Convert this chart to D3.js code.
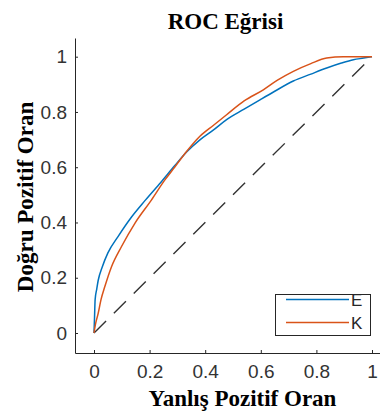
<!DOCTYPE html>
<html>
<head>
<meta charset="utf-8">
<script src="https://cdn.jsdelivr.net/npm/d3@7"></script>
<style>
  body { margin: 0; background: #fff; }
  svg { display: block; }
  .tick text { font-family: "Liberation Sans", Arial, sans-serif; font-size: 19px; fill: #333; }
  .lbl { font-family: "Liberation Serif", "Times New Roman", serif; font-weight: bold; font-size: 23px; fill: #000; }
</style>
</head>
<body>
<script>
// ROC points
var fprE = [0, 0.002, 0.004, 0.01, 0.015, 0.03, 0.05, 0.087, 0.135, 0.184, 0.24, 0.29, 0.333, 0.381, 0.43, 0.477, 0.54, 0.597, 0.65, 0.717, 0.78, 0.837, 0.89, 0.933, 0.97, 1];
var tprE = [0, 0.06, 0.12, 0.16, 0.19, 0.24, 0.29, 0.35, 0.42, 0.48, 0.545, 0.605, 0.655, 0.699, 0.735, 0.772, 0.81, 0.844, 0.875, 0.912, 0.937, 0.959, 0.977, 0.989, 0.995, 1];
var fprK = [0, 0.005, 0.015, 0.025, 0.039, 0.063, 0.099, 0.147, 0.207, 0.255, 0.29, 0.333, 0.381, 0.43, 0.477, 0.54, 0.609, 0.66, 0.717, 0.78, 0.837, 0.897, 0.95, 1];
var tprK = [0, 0.03, 0.071, 0.12, 0.168, 0.24, 0.313, 0.397, 0.482, 0.554, 0.6, 0.657, 0.712, 0.752, 0.79, 0.84, 0.88, 0.915, 0.947, 0.975, 0.995, 1, 1, 1];
var chanceX = [0, 1];
var chanceY = [0, 1];
var tickVals = [0, 0.2, 0.4, 0.6, 0.8, 1];
var seriesNames = ["E", "K"];
var seriesColors = ["#0072BD", "#D95319"];

var width = 380, height = 417;

var svg = d3.select("body").append("svg")
    .attr("width", width)
    .attr("height", height);

// data scales
var x = d3.scaleLinear().domain([0, 1]).range([94, 372]);
var y = d3.scaleLinear().domain([0, 1]).range([333, 56.7]);

// axis scales span the full axes box (matlab adds padding)
var xAx = x.copy().domain([x.invert(75), x.invert(380)]).range([75, 380]);
var yAx = y.copy().domain([y.invert(353), y.invert(38)]).range([353, 38]);

var fmt = function(d) { return String(+d.toFixed(1)); };

svg.append("g")
    .attr("transform", "translate(0,353)")
    .call(d3.axisBottom(xAx).tickValues(tickVals).tickFormat(fmt)
      .tickSizeInner(-3).tickSizeOuter(0).tickPadding(12));

svg.append("g")
    .attr("transform", "translate(75,0)")
    .call(d3.axisLeft(yAx).tickValues(tickVals).tickFormat(fmt)
      .tickSizeInner(-3).tickSizeOuter(0).tickPadding(8));

svg.selectAll(".domain, .tick line").attr("stroke", "#262626");

// chance line
var line = d3.line()
    .x(function(d) { return x(d[0]); })
    .y(function(d) { return y(d[1]); });

svg.append("path")
    .datum(d3.zip(chanceX, chanceY))
    .attr("fill", "none")
    .attr("stroke", "#333")
    .attr("stroke-width", 1.4)
    .attr("stroke-dasharray", "17,11")
    .attr("d", line);

var curve = d3.line()
    .curve(d3.curveMonotoneX)
    .x(function(d) { return x(d[0]); })
    .y(function(d) { return y(d[1]); });

var series = [d3.zip(fprE, tprE), d3.zip(fprK, tprK)];

svg.selectAll(".roc")
    .data(series)
  .enter().append("path")
    .attr("class", "roc")
    .attr("fill", "none")
    .attr("stroke", function(d, i) { return seriesColors[i]; })
    .attr("stroke-width", 1.5)
    .attr("d", curve);

// legend
var lg = svg.append("g");
lg.append("rect")
    .attr("x", 275.5).attr("y", 294.5)
    .attr("width", 95).attr("height", 41)
    .attr("fill", "#fff")
    .attr("stroke", "#262626");

seriesNames.forEach(function(n, i) {
  var ly = 299.5 + i * 23;
  lg.append("line")
      .attr("x1", 286).attr("x2", 349)
      .attr("y1", ly).attr("y2", ly)
      .attr("stroke", seriesColors[i])
      .attr("stroke-width", 1.5);
  lg.append("text")
      .attr("x", 351).attr("y", ly)
      .attr("dy", "0.36em")
      .style("font-family", "'Liberation Sans', Arial, sans-serif")
      .style("font-size", "17px")
      .style("fill", "#262626")
      .text(n);
});

// titles
svg.append("text")
    .attr("class", "lbl")
    .attr("x", 225.5).attr("y", 29)
    .attr("text-anchor", "middle")
    .text("ROC Eğrisi");

svg.append("text")
    .attr("class", "lbl")
    .attr("x", 242.5).attr("y", 406)
    .attr("text-anchor", "middle")
    .text("Yanlış Pozitif Oran");

svg.append("text")
    .attr("class", "lbl")
    .attr("transform", "translate(33,197) rotate(-90)")
    .attr("text-anchor", "middle")
    .text("Doğru Pozitif Oran");
</script>
</body>
</html>
